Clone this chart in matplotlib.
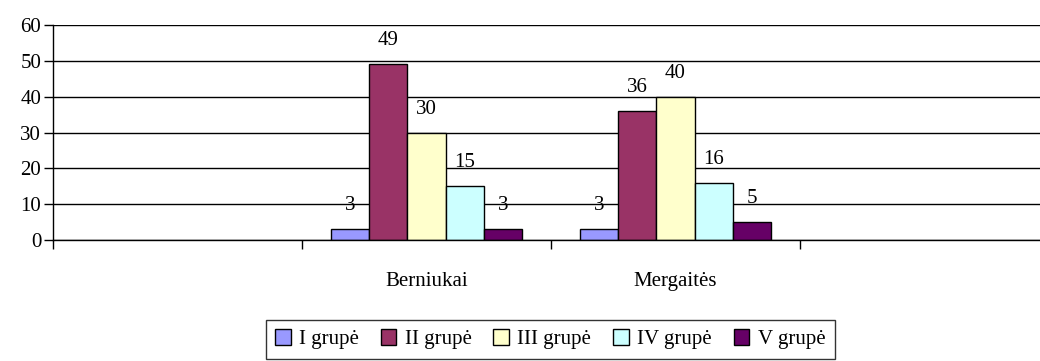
import matplotlib
matplotlib.use("Agg")
import matplotlib.pyplot as plt
import numpy as np

categories = ["", "Berniukai", "Mergaitės", ""]
groups = ["I grupė", "II grupė", "III grupė", "IV grupė", "V grupė"]
values = {
    "I grupė":   [None, 3, 3, None],
    "II grupė":  [None, 49, 36, None],
    "III grupė": [None, 30, 40, None],
    "IV grupė":  [None, 15, 16, None],
    "V grupė":   [None, 3, 5, None],
}
colors = ["#9999FF", "#993366", "#FFFFCC", "#CCFFFF", "#660066"]
yticks = [0, 10, 20, 30, 40, 50, 60]

plt.rcParams["font.family"] = ["Liberation Serif", "DejaVu Serif"]
FS = 15

fig = plt.figure(figsize=(10.4, 3.61), dpi=100)
ax = fig.add_axes([53 / 1040, 1 - 240 / 361, (1049 - 53) / 1040, 215 / 361])

bw = 0.154
x = np.arange(len(categories))
handles = []
for i, (g, c) in enumerate(zip(groups, colors)):
    xs = [xi + (i - 2) * bw for xi, v in zip(x, values[g]) if v is not None]
    vs = [v for v in values[g] if v is not None]
    bars = ax.bar(xs, vs, width=bw, color=c, edgecolor="black", linewidth=1.0,
                  zorder=3, label=g)
    handles.append(bars)
    for xb, v in zip(xs, vs):
        ax.annotate(str(v), (xb, v), xytext=(0, 19), textcoords="offset pixels",
                    ha="center", va="baseline", fontsize=FS, zorder=4)

ax.set_xlim(-0.5, 3.5)
ax.set_ylim(0, 60)
ax.set_yticks(yticks)
ax.set_yticklabels([str(t) for t in yticks])
ax.yaxis.grid(True, color="black", linewidth=1.0, zorder=1)
ax.set_axisbelow(True)

ax.set_xticks(np.arange(-0.5, 3.5, 1.0))
ax.set_xticklabels([])
ax.set_xticks(x, minor=True)
ax.set_xticklabels(categories, minor=True)
ax.tick_params(axis="x", which="major", length=6.5, width=1.0, direction="out")
ax.tick_params(axis="x", which="minor", length=0, pad=23, labelsize=FS)
ax.tick_params(axis="y", length=6.5, width=1.0, direction="out", pad=2, labelsize=FS)

for s in ["top", "right"]:
    ax.spines[s].set_visible(False)
for s in ["left", "bottom"]:
    ax.spines[s].set_linewidth(1.0)
    ax.spines[s].set_zorder(5)

leg = fig.legend(handles=handles, labels=groups, loc="upper center",
                 bbox_to_anchor=(0.529, 1 - 320 / 361), ncol=5, fontsize=FS,
                 frameon=True, fancybox=False, edgecolor="black",
                 handlelength=0.75, handleheight=0.75, handletextpad=0.4,
                 columnspacing=1.05, borderpad=0.45, borderaxespad=0)
leg.get_frame().set_linewidth(1.0)

fig.savefig("out.png", dpi=100)
